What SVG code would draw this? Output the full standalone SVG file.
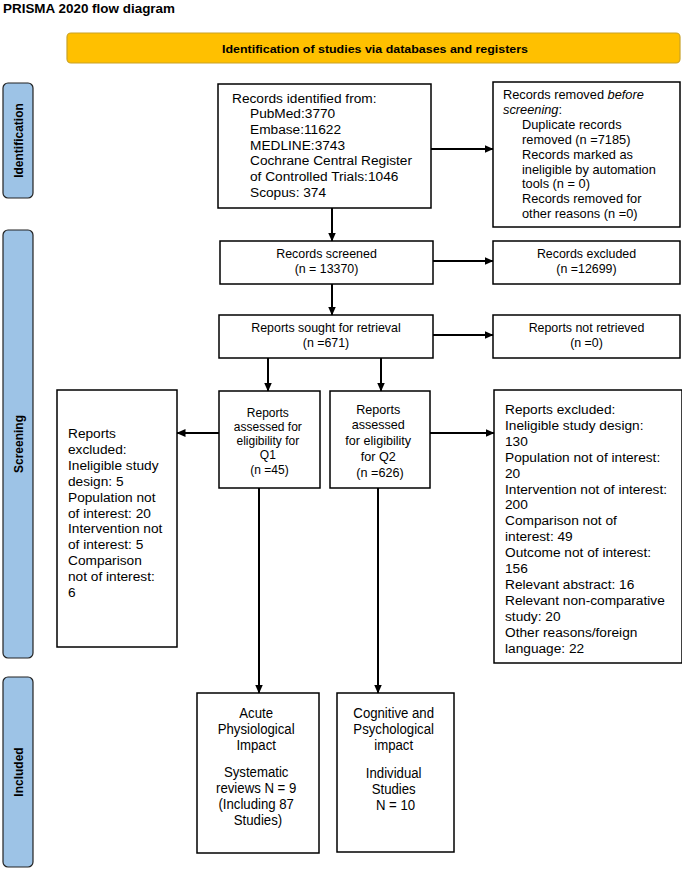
<svg xmlns="http://www.w3.org/2000/svg" width="682" height="870" viewBox="0 0 682 870">
<defs>
<marker id="ah" markerWidth="9" markerHeight="8" refX="8.5" refY="4" orient="auto" markerUnits="userSpaceOnUse">
<path d="M0,0 L9,4 L0,8 z" fill="#000"/>
</marker>
<style>
.box{fill:#fff;stroke:#000;stroke-width:1.5}
.lab{fill:#9DC3E6;stroke:#222;stroke-width:1.2}
.t{font-family:"Liberation Sans",Arial,sans-serif;fill:#000}
.c{text-anchor:middle}
.b{font-weight:bold}
.con{stroke:#000;stroke-width:2;fill:none;marker-end:url(#ah)}
</style>
</defs>
<rect width="682" height="870" fill="#fff"/>
<text class="t b" x="3" y="13" font-size="13" textLength="172" lengthAdjust="spacingAndGlyphs">PRISMA 2020 flow diagram</text>

<g id="header">
<rect x="67" y="33" width="613" height="30" rx="4" fill="#FFC000" stroke="#C9A227" stroke-width="1.2"/>
<text class="t b c" x="375" y="52.5" font-size="11.5" textLength="306" lengthAdjust="spacingAndGlyphs">Identification of studies via databases and registers</text>
</g>

<g id="label-identification">
<rect class="lab" x="3" y="83" width="30" height="115" rx="5"/>
<text class="t b c" transform="translate(22.5,140.5) rotate(-90)" font-size="12">Identification</text>
</g>
<g id="label-screening">
<rect class="lab" x="3" y="230" width="30" height="428" rx="5"/>
<text class="t b c" transform="translate(22.5,444) rotate(-90)" font-size="12">Screening</text>
</g>
<g id="label-included">
<rect class="lab" x="3" y="677" width="30" height="190" rx="5"/>
<text class="t b c" transform="translate(22.5,772) rotate(-90)" font-size="12">Included</text>
</g>

<g id="records-identified">
<rect class="box" x="218" y="84" width="213" height="124"/>
<text class="t" font-size="13.7">
<tspan x="232" y="102.5">Records identified from:</tspan>
<tspan x="250" y="118.2">PubMed:3770</tspan>
<tspan x="250" y="133.9">Embase:11622</tspan>
<tspan x="250" y="149.6">MEDLINE:3743</tspan>
<tspan x="250" y="165.3">Cochrane Central Register</tspan>
<tspan x="250" y="181">of Controlled Trials:1046</tspan>
<tspan x="250" y="196.7">Scopus: 374</tspan>
</text>
</g>

<g id="records-removed">
<rect class="box" x="493" y="82" width="187" height="145"/>
<text class="t" font-size="12.8">
<tspan x="503" y="99">Records removed <tspan font-style="italic">before</tspan></tspan>
<tspan x="503" y="114" font-style="italic">screening<tspan font-style="normal">:</tspan></tspan>
<tspan x="522" y="129">Duplicate records</tspan>
<tspan x="522" y="144">removed (n =7185)</tspan>
<tspan x="522" y="158.6">Records marked as</tspan>
<tspan x="522" y="173.5">ineligible by automation</tspan>
<tspan x="522" y="188.4">tools (n = 0)</tspan>
<tspan x="522" y="203.3">Records removed for</tspan>
<tspan x="522" y="218.2">other reasons (n =0)</tspan>
</text>
</g>

<g id="records-screened">
<rect class="box" x="220" y="241" width="213" height="43"/>
<text class="t c" font-size="12.4"><tspan x="326.5" y="258">Records screened</tspan><tspan x="326.5" y="273">(n = 13370)</tspan></text>
</g>

<g id="records-excluded">
<rect class="box" x="493" y="241" width="187" height="43"/>
<text class="t c" font-size="12.4"><tspan x="586.5" y="258">Records excluded</tspan><tspan x="586.5" y="273">(n =12699)</tspan></text>
</g>

<g id="reports-sought">
<rect class="box" x="219" y="315" width="214" height="43"/>
<text class="t c" font-size="12.4"><tspan x="326" y="332">Reports sought for retrieval</tspan><tspan x="326" y="347">(n =671)</tspan></text>
</g>

<g id="reports-not-retrieved">
<rect class="box" x="493" y="315" width="187" height="43"/>
<text class="t c" font-size="12.4"><tspan x="586.5" y="332">Reports not retrieved</tspan><tspan x="586.5" y="347">(n =0)</tspan></text>
</g>

<g id="assessed-q1">
<rect class="box" x="219" y="391" width="101" height="97"/>
<text class="t c" font-size="12">
<tspan x="269.5" y="416.5">Reports</tspan>
<tspan x="269.5" y="430.8">assessed for</tspan>
<tspan x="269.5" y="445.1">eligibility for</tspan>
<tspan x="269.5" y="459.4">Q1</tspan>
<tspan x="269.5" y="473.7">(n =45)</tspan>
</text>
</g>

<g id="assessed-q2">
<rect class="box" x="330" y="391" width="100" height="97"/>
<text class="t c" font-size="12.6">
<tspan x="380" y="413.5">Reports</tspan>
<tspan x="380" y="429.3">assessed</tspan>
<tspan x="380" y="445.1">for eligibility</tspan>
<tspan x="380" y="460.9">for Q2</tspan>
<tspan x="380" y="476.7">(n =626)</tspan>
</text>
</g>

<g id="excluded-q1">
<rect class="box" x="57" y="390" width="120" height="257"/>
<text class="t" font-size="13.7">
<tspan x="68" y="438">Reports</tspan>
<tspan x="68" y="453.9">excluded:</tspan>
<tspan x="68" y="469.8">Ineligible study</tspan>
<tspan x="68" y="485.7">design:  5</tspan>
<tspan x="68" y="501.6">Population not</tspan>
<tspan x="68" y="517.5">of interest: 20</tspan>
<tspan x="68" y="533.4">Intervention not</tspan>
<tspan x="68" y="549.3">of interest: 5</tspan>
<tspan x="68" y="565.2">Comparison</tspan>
<tspan x="68" y="581.1">not of interest:</tspan>
<tspan x="68" y="597">6</tspan>
</text>
</g>

<g id="excluded-q2">
<rect class="box" x="494" y="390" width="188" height="273"/>
<text class="t" font-size="13.7">
<tspan x="505" y="414">Reports excluded:</tspan>
<tspan x="505" y="429.9">Ineligible study design:</tspan>
<tspan x="505" y="445.8">130</tspan>
<tspan x="505" y="461.7">Population not of interest:</tspan>
<tspan x="505" y="477.6">20</tspan>
<tspan x="505" y="493.5">Intervention not of interest:</tspan>
<tspan x="505" y="509.4">200</tspan>
<tspan x="505" y="525.3">Comparison not of</tspan>
<tspan x="505" y="541.2">interest: 49</tspan>
<tspan x="505" y="557.1">Outcome not of interest:</tspan>
<tspan x="505" y="573">156</tspan>
<tspan x="505" y="588.9">Relevant abstract: 16</tspan>
<tspan x="505" y="604.8">Relevant non-comparative</tspan>
<tspan x="505" y="620.7">study: 20</tspan>
<tspan x="505" y="636.6">Other reasons/foreign</tspan>
<tspan x="505" y="652.5">language: 22</tspan>
</text>
</g>

<g id="included-q1">
<rect class="box" x="197" y="693" width="122" height="160"/>
<text class="t c" font-size="15" transform="translate(258,0) scale(0.88,1)">
<tspan x="0" y="718">Acute</tspan>
<tspan x="0" y="734">Physiological</tspan>
<tspan x="0" y="750">Impact</tspan>
<tspan x="0" y="777">Systematic</tspan>
<tspan x="0" y="793">reviews N = 9</tspan>
<tspan x="0" y="809">(Including 87</tspan>
<tspan x="0" y="825">Studies)</tspan>
</text>
</g>

<g id="included-q2">
<rect class="box" x="337" y="693" width="117" height="159"/>
<text class="t c" font-size="15" transform="translate(395.5,0) scale(0.88,1)">
<tspan x="0" y="718">Cognitive and</tspan>
<tspan x="0" y="734">Psychological</tspan>
<tspan x="0" y="750">impact</tspan>
<tspan x="0" y="778">Individual</tspan>
<tspan x="0" y="794">Studies</tspan>
<tspan x="0" y="810">N = 10</tspan>
</text>
</g>

<g id="connectors">
<line class="con" x1="431" y1="149" x2="493" y2="149"/>
<line class="con" x1="332" y1="208" x2="332" y2="241"/>
<line class="con" x1="433" y1="261" x2="493" y2="261"/>
<line class="con" x1="332" y1="284" x2="332" y2="315"/>
<line class="con" x1="433" y1="335" x2="493" y2="335"/>
<line class="con" x1="268" y1="358" x2="268" y2="391"/>
<line class="con" x1="381" y1="358" x2="381" y2="391"/>
<line class="con" x1="219" y1="433" x2="177" y2="433"/>
<line class="con" x1="430" y1="433" x2="494" y2="433"/>
<line class="con" x1="259" y1="488" x2="259" y2="693"/>
<line class="con" x1="378" y1="488" x2="378" y2="693"/>
</g>
</svg>
